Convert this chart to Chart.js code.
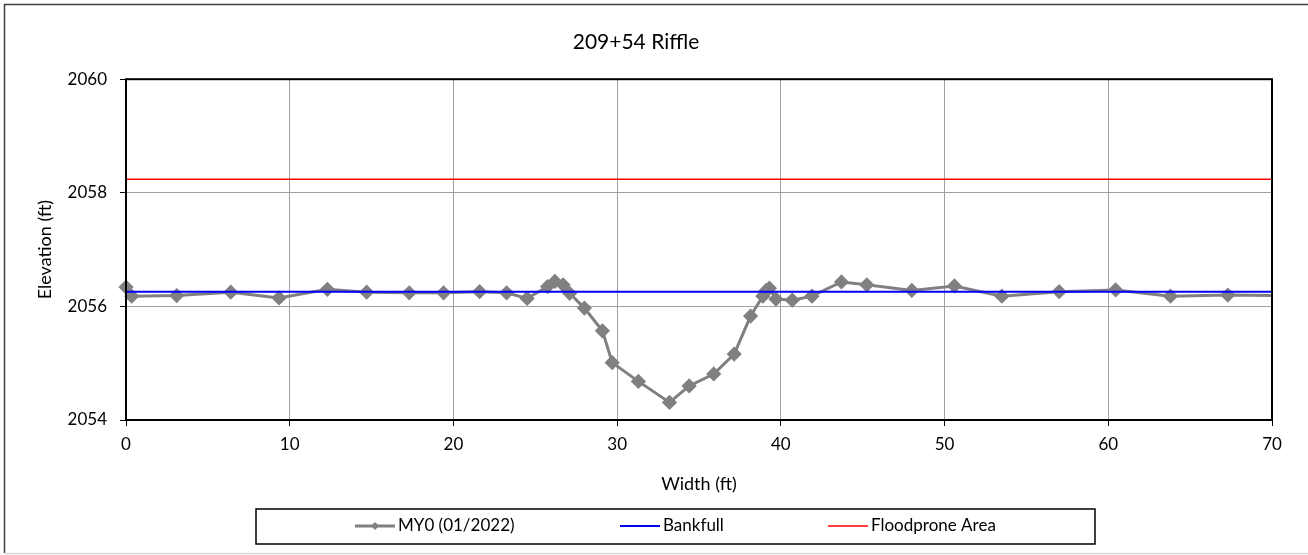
<!DOCTYPE html>
<html>
<head>
<meta charset="utf-8">
<title>209+54 Riffle</title>
<script src="https://cdn.jsdelivr.net/npm/chart.js@4.4.1/dist/chart.umd.min.js"></script>
<style>
  body { margin: 0; background: #ffffff; }
  #wrap { width: 1308px; height: 555px; }
</style>
</head>
<body>
<div id="wrap"><canvas id="xs-chart" width="1308" height="555"></canvas></div>
<script>
// cross section survey, MY0 (01/2022)
const stationFt = [0, 0.35, 3.1, 6.4, 9.35, 12.3, 14.7, 17.3, 19.4, 21.6, 23.25, 24.5, 25.75, 26.2, 26.7, 27.1,
    28.0, 29.1, 29.7, 31.3, 33.2, 34.4, 35.9, 37.15, 38.15, 38.9, 39.1, 39.3, 39.7, 40.7, 41.9, 43.7,
    45.25, 48.0, 50.6, 53.5, 57.0, 60.45, 63.8, 67.3, 70.6]
const elevationFt = [2056.34, 2056.18, 2056.19, 2056.25, 2056.15, 2056.30, 2056.25, 2056.24, 2056.24, 2056.26,
    2056.24, 2056.14, 2056.35, 2056.44, 2056.38, 2056.23, 2055.97, 2055.57, 2055.01, 2054.68, 2054.31,
    2054.60, 2054.81, 2055.16, 2055.83, 2056.18, 2056.28, 2056.32, 2056.13, 2056.11, 2056.18, 2056.43,
    2056.38, 2056.28, 2056.36, 2056.18, 2056.26, 2056.29, 2056.18, 2056.20, 2056.19]

const bankfullX = [0, 70]
const bankfullY = [2056.26, 2056.26]
const floodproneX = [0, 70]
const floodproneY = [2058.24, 2058.24]

const xTicks = [0, 10, 20, 30, 40, 50, 60, 70]
const yTicks = [2054, 2056, 2058, 2060]

const FONT = "Lato"

function toPoints(xs, ys) {
    return xs.map(function (x, i) { return { x: x, y: ys[i] } })
}

// plot frame + outer border
const framePlugin = {
    id: "frame",
    afterDatasetsDraw(chart) {
        const ctx = chart.ctx
        const a = chart.chartArea
        ctx.save()
        ctx.strokeStyle = "#000000"
        ctx.lineWidth = 2
        ctx.strokeRect(a.left, a.top, a.right - a.left, a.bottom - a.top)
        ctx.restore()
    },
    afterDraw(chart) {
        const ctx = chart.ctx
        ctx.save()
        ctx.lineWidth = 1.5
        ctx.strokeStyle = "#404040"
        ctx.beginPath()
        ctx.moveTo(4.5, 553)
        ctx.lineTo(4.5, 4.5)
        ctx.lineTo(1308, 4.5)
        ctx.stroke()
        ctx.strokeStyle = "#d9d9d9"
        ctx.beginPath()
        ctx.moveTo(4.5, 553.5)
        ctx.lineTo(1308, 553.5)
        ctx.stroke()
        ctx.restore()
    }
}

// legend drawn in a box under the axis, like the spreadsheet one
const legendPlugin = {
    id: "boxLegend",
    afterDraw(chart) {
        const ctx = chart.ctx
        const starts = [355, 620, 828]
        const cy = 526
        ctx.save()
        ctx.strokeStyle = "#000000"
        ctx.lineWidth = 1.5
        ctx.strokeRect(256, 509, 839, 35)
        ctx.font = "17px " + FONT
        ctx.textBaseline = "middle"
        ctx.fillStyle = "#000000"
        chart.data.datasets.forEach(function (ds, i) {
            const x0 = starts[i]
            ctx.strokeStyle = ds.borderColor
            ctx.lineWidth = ds.borderWidth
            ctx.beginPath()
            ctx.moveTo(x0, cy)
            ctx.lineTo(x0 + 40, cy)
            ctx.stroke()
            if (ds.pointRadius > 0) {
                ctx.fillStyle = ds.pointBackgroundColor
                ctx.beginPath()
                ctx.moveTo(x0 + 20, cy - 4)
                ctx.lineTo(x0 + 24, cy)
                ctx.lineTo(x0 + 20, cy + 4)
                ctx.lineTo(x0 + 16, cy)
                ctx.closePath()
                ctx.fill()
            }
            ctx.fillStyle = "#000000"
            ctx.fillText(ds.label, x0 + 43, cy)
        })
        ctx.restore()
    }
}

const canvas = document.getElementById("xs-chart").getContext("2d")

const xsChart = new Chart(canvas, {
    type: "scatter",
    data: {
        datasets: [{
            label: "MY0 (01/2022)",
            data: toPoints(stationFt, elevationFt),
            showLine: true,
            borderColor: "#808080",
            backgroundColor: "#808080",
            pointBackgroundColor: "#808080",
            pointBorderColor: "#808080",
            borderWidth: 3,
            pointStyle: "rectRot",
            pointRadius: 5.5,
            pointHoverRadius: 5.5,
            clip: { left: 12, top: 12, right: 0, bottom: 12 },
            order: 3
        }, {
            label: "Bankfull",
            data: toPoints(bankfullX, bankfullY),
            showLine: true,
            borderColor: "#0000ff",
            backgroundColor: "#0000ff",
            borderWidth: 2,
            pointRadius: 0,
            order: 1
        }, {
            label: "Floodprone Area",
            data: toPoints(floodproneX, floodproneY),
            showLine: true,
            borderColor: "#ff0000",
            backgroundColor: "#ff0000",
            borderWidth: 1.5,
            pointRadius: 0,
            order: 2
        }]
    },
    options: {
        responsive: false,
        animation: false,
        devicePixelRatio: 1,
        layout: { padding: { top: 0, left: 0, right: 36, bottom: 0 } },
        plugins: {
            legend: { display: false },
            tooltip: { enabled: false },
            title: {
                display: true,
                text: "209+54 Riffle",
                color: "#000000",
                font: { family: FONT, size: 21, weight: "normal" },
                padding: { top: 30, bottom: 24 }
            }
        },
        scales: {
            x: {
                type: "linear",
                min: 0,
                max: 70,
                afterFit: function (scale) { scale.height = 135 },
                afterBuildTicks: function (scale) { scale.ticks = xTicks.map(function (v) { return { value: v } }) },
                ticks: {
                    color: "#000000", padding: 8, font: { family: FONT, size: 17 },
                    callback: function (v) { return String(v) }
                },
                grid: { color: "#a0a0a0", tickColor: "#000000", tickLength: 6, lineWidth: 1 },
                border: { display: false },
                title: {
                    display: true,
                    text: "Width (ft)",
                    color: "#000000",
                    font: { family: FONT, size: 18 },
                    padding: { top: 0, bottom: 60 }
                }
            },
            y: {
                type: "linear",
                min: 2054,
                max: 2060,
                afterFit: function (scale) { scale.width = 126 },
                afterBuildTicks: function (scale) { scale.ticks = yTicks.map(function (v) { return { value: v } }) },
                ticks: {
                    color: "#000000", padding: 13, font: { family: FONT, size: 17 },
                    callback: function (v) { return String(v) }
                },
                grid: { color: "#a0a0a0", tickColor: "#000000", tickLength: 6, lineWidth: 1 },
                border: { display: false },
                title: {
                    display: true,
                    text: "Elevation (ft)",
                    color: "#000000",
                    font: { family: FONT, size: 18 },
                    padding: { top: 34, bottom: 0 }
                }
            }
        }
    },
    plugins: [framePlugin, legendPlugin]
})
</script>
</body>
</html>
